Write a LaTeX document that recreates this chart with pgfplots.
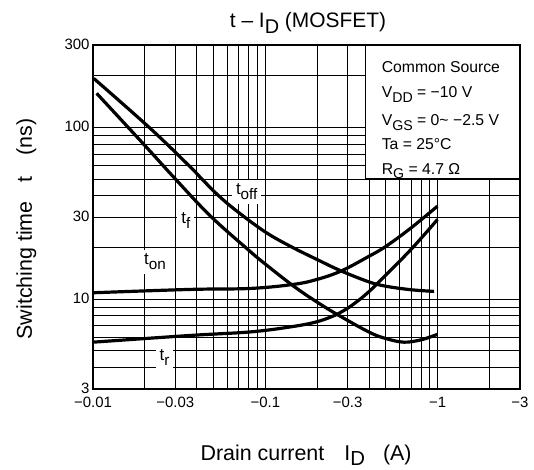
\documentclass[border=0pt]{standalone}
\usepackage{fontspec}
\setmainfont{Liberation Sans}
\usepackage{graphicx}
\usepackage{pgfplots}
\pgfplotsset{compat=1.18}

% lowered index as used in the datasheet (V_DD, I_D, t_off ...)
\newcommand{\lo}[2][0.9]{\raisebox{-0.3em}{\scalebox{#1}{#2}}}

\begin{document}
\begin{tikzpicture}
\path[use as bounding box] (-93bp,-81bp) rectangle (441bp,389bp);
\begin{axis}[
  at={(0,0)}, anchor=south west,
  scale only axis, width=427bp, height=343.5bp,
  xmode=log, ymode=log,
  xmin=0.01, xmax=3, ymin=3, ymax=300,
  xtick={0.01,0.03,0.1,0.3,1,3},
  xticklabels={−0.01,−0.03,−0.1,−0.3,−1,−3},
  ytick={3,10,30,100,300},
  yticklabels={3,10,30,100,300},
  minor xtick={0.02,0.04,0.05,0.06,0.07,0.08,0.09,0.2,0.4,0.5,0.6,0.7,0.8,0.9,2},
  minor ytick={4,5,6,7,8,9,20,40,50,60,70,80,90,200},
  grid=both,
  major grid style={black, line width=0.9bp},
  minor grid style={black, line width=0.9bp},
  major tick length=0pt, minor tick length=0pt,
  axis line style={line width=2bp},
  /pgf/number format/assume math mode=true,
  tick label style={font=\fontsize{15}{18}\selectfont},
  xticklabel style={yshift=-5bp},
  yticklabel style={yshift=1bp},
  clip=false,
]
% condition box in the upper right corner
\draw[fill=white, line width=1.2bp] (rel axis cs:0.6386,0.6114) rectangle (rel axis cs:1,1);

\pgfplotsset{curve/.style={black, mark=none, line width=3.2bp, smooth, tension=0.6}}
% t_off
\addplot[curve] coordinates {
  (0.0101,193) (0.0215,98.7) (0.0366,59) (0.0429,50) (0.0536,40)
  (0.0685,32.5) (0.1,24.6) (0.14,20.3) (0.2,17.0) (0.2754,14.6)
  (0.4,12.6) (0.5,11.9) (0.7,11.35) (0.953,11.1)};
% t_f
\addplot[curve] coordinates {
  (0.0105,158) (0.02,78.5) (0.03,50.2) (0.048,30.5) (0.08,19.3)
  (0.1,16.0) (0.146,11.9) (0.2,9.6) (0.2633,8.11) (0.4,6.43)
  (0.5,5.9) (0.637,5.62) (0.8,5.8) (0.996,6.24)};
% t_on
\addplot[curve] coordinates {
  (0.01,10.9) (0.0366,11.4) (0.0818,11.55) (0.146,12.2) (0.2,13.05)
  (0.2754,14.6) (0.4,17.8) (0.5,20.3) (0.7,26) (0.996,34.8)};
% t_r
\addplot[curve] coordinates {
  (0.01,5.62) (0.0366,6.15) (0.0818,6.45) (0.14,6.9) (0.2,7.4)
  (0.2633,8.2) (0.3,8.85) (0.37,10.36) (0.456,12.6) (0.7,19.5) (0.996,29.1)};

% curve names
\begin{scope}[every node/.style={fill=white, inner sep=4bp, font=\fontsize{17}{19}\selectfont}]
\node at (rel axis cs:0.36,0.5735) {t\lo{off}};
\node at (rel axis cs:0.2173,0.4897) {t\lo{f}};
\node at (rel axis cs:0.1452,0.3706) {t\lo{on}};
\node at (rel axis cs:0.1674,0.0917) {t\lo{r}};
\end{scope}

% test conditions
\begin{scope}[every node/.style={anchor=base west, inner sep=0pt, font=\fontsize{15.8}{18}\selectfont}]
\node at (rel axis cs:0.676,0.922) {Common Source};
\node at (rel axis cs:0.676,0.848) {V\lo{DD} = −10 V};
\node at (rel axis cs:0.676,0.7657) {V\lo{GS} = 0\textasciitilde\ −2.5 V};
\node at (rel axis cs:0.676,0.6958) {Ta = 25°C};
\node at (rel axis cs:0.676,0.6259) {R\lo{G} = 4.7 Ω};
\end{scope}

% frame on top
\draw[line width=2bp] (rel axis cs:0,0) rectangle (rel axis cs:1,1);

% title and axis labels
\node[anchor=base, font=\fontsize{21}{25}\selectfont] at (rel axis cs:0.5035,1.0535) {t – I\lo[0.95]{D} (MOSFET)};
\node[anchor=base, font=\fontsize{21.5}{25}\selectfont] at (rel axis cs:0.499,-0.209) {Drain current\hspace{20bp}I\raisebox{-0.24em}{\scalebox{0.95}{D}}\hspace{18bp}(A)};
\node[anchor=base, rotate=90, font=\fontsize{21.5}{25}\selectfont] at (rel axis cs:-0.1429,0.4658) {Switching time\hspace{19bp}t\hspace{21bp}(ns)};
\end{axis}
\end{tikzpicture}
\end{document}
